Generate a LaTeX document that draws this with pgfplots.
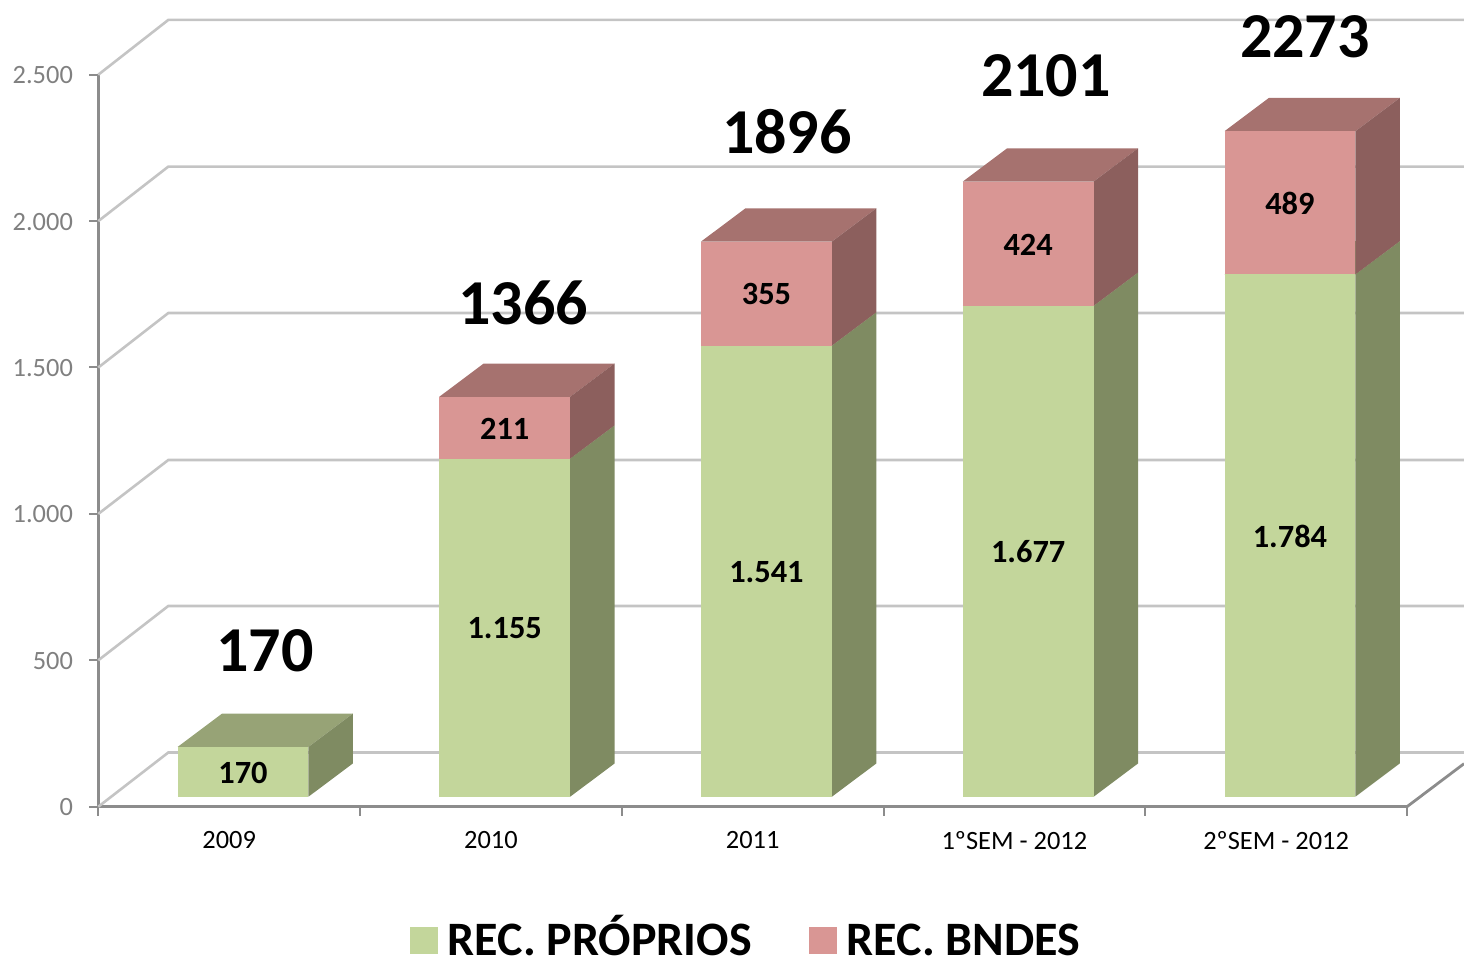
\documentclass[border=0pt]{standalone}
\usepackage{pgfplots}
\pgfplotsset{compat=1.18}
\usepackage{fontspec}
\setmainfont{Carlito}
\definecolor{gF}{HTML}{C3D69B}
\definecolor{gT}{HTML}{97A376}
\definecolor{gS}{HTML}{7F8B62}
\definecolor{rF}{HTML}{D99694}
\definecolor{rT}{HTML}{A6726F}
\definecolor{rS}{HTML}{8C5F5D}
\definecolor{gridc}{HTML}{C4C4C4}
\definecolor{axisc}{HTML}{8C8C8C}
\definecolor{tickt}{HTML}{808080}
\tikzset{
  seglabel/.style={font=\fontsize{16.2}{18}\selectfont\bfseries,black,inner sep=0pt,yshift=-0.4pt},
  totlabel/.style={font=\fontsize{32}{34}\selectfont\bfseries,black,inner sep=0pt},
}
% one stacked segment: centre, low, high, label, colours (front, top, side)
\newcommand{\seg}[7]{%
  \pgfmathsetmacro{\xa}{#1+0.0528-0.25}%
  \pgfmathsetmacro{\xb}{#1+0.0528+0.25}%
  \pgfmathsetmacro{\xc}{#1+0.0528+0.25+0.1696}%
  \pgfmathsetmacro{\xd}{#1+0.0528-0.25+0.1696}%
  \pgfmathsetmacro{\xm}{#1+0.0528}%
  \pgfmathsetmacro{\yl}{#2+34}%
  \pgfmathsetmacro{\yh}{#3+34}%
  \pgfmathsetmacro{\ylb}{#2+34+113.6}%
  \pgfmathsetmacro{\yhb}{#3+34+113.6}%
  \pgfmathsetmacro{\ym}{(#2+#3)/2+34}%
  \edef\temp{%
    \noexpand\addplot[fill=#6,draw=none,forget plot] coordinates {(\xa,\yh)(\xb,\yh)(\xc,\yhb)(\xd,\yhb)} -- cycle;
    \noexpand\addplot[fill=#7,draw=none,forget plot] coordinates {(\xb,\yl)(\xc,\ylb)(\xc,\yhb)(\xb,\yh)} -- cycle;
    \noexpand\addplot[fill=#5,draw=none,forget plot] coordinates {(\xa,\yl)(\xb,\yl)(\xb,\yh)(\xa,\yh)} -- cycle;
    \noexpand\node[seglabel] at (axis cs:\xm,\ym) {#4};
  }\temp}
\newcommand{\wall}[2]{\addplot[gridc,line width=1.3pt,forget plot] coordinates {(-0.5,#1)(-0.2326,#2)(4.718,#2)};}
\begin{document}
\begin{tikzpicture}
\path[use as bounding box] (-49.15pt,-75.65pt) rectangle (682.85pt,403.35pt);
\begin{axis}[
  scale only axis, width=654.35pt, height=366pt,
  xmin=-0.5, xmax=4.5, ymin=0, ymax=2500, clip=false,
  axis x line*=bottom, axis y line*=left,
  axis line style={axisc,line width=1.4pt,-},
  tick align=outside, major tick length=4.5pt, minor tick length=4.5pt,
  ytick={0,500,1000,1500,2000,2500},
  yticklabels={0,500,1.000,1.500,2.000,2.500},
  xtick={0,1,2,3,4},
  xticklabels={2009,2010,2011,1ºSEM - 2012,2ºSEM - 2012},
  minor xtick={-0.5,0.5,1.5,2.5,3.5,4.5},
  x tick style={axisc,line width=1pt},
  y tick style={axisc,line width=1pt},
  major x tick style={draw=none},
  ticklabel style={font=\fontsize{13.2}{15}\selectfont},
  yticklabel style={tickt,inner sep=0pt,xshift=-8pt,yshift=-0.3pt},
  xticklabel style={black,inner sep=0pt,yshift=-7.7pt},
  legend style={at={(rel axis cs:0.4957,-0.1785)},anchor=center,draw=none,fill=none,
    font=\fontsize{24}{26}\selectfont\bfseries,legend columns=2,
    nodes={text height=18pt,text depth=0pt},
    /tikz/every even column/.append style={column sep=26.5pt}},
  legend image code/.code={\path[draw=none,fill=none] (0pt,0pt) -- (17pt,0pt);\fill[#1,draw=none] (0pt,-8.5pt) rectangle (14pt,5pt);},
]
\wall{0}{185}
\wall{500}{685.5}
\wall{1000}{1184}
\wall{1500}{1686}
\wall{2000}{2186}
\wall{2500}{2687}
\addplot[axisc,line width=1.4pt,forget plot] coordinates {(4.5,0)(4.718,147)};
\seg{0}{0}{170}{170}{gF}{gT}{gS}
\seg{1}{0}{1155}{1.155}{gF}{gT}{gS}
\seg{1}{1155}{1366}{211}{rF}{rT}{rS}
\seg{2}{0}{1541}{1.541}{gF}{gT}{gS}
\seg{2}{1541}{1896}{355}{rF}{rT}{rS}
\seg{3}{0}{1677}{1.677}{gF}{gT}{gS}
\seg{3}{1677}{2101}{424}{rF}{rT}{rS}
\seg{4}{0}{1784}{1.784}{gF}{gT}{gS}
\seg{4}{1784}{2273}{489}{rF}{rT}{rS}
\node[totlabel] at (axis cs:0.1369,532) {170};
\node[totlabel] at (axis cs:1.1226,1720) {1366};
\node[totlabel] at (axis cs:2.1311,2304) {1896};
\node[totlabel] at (axis cs:3.1207,2495) {2101};
\node[totlabel] at (axis cs:4.1102,2629) {2273};
\addlegendimage{fill=gF}
\addlegendentry{REC. PRÓPRIOS}
\addlegendimage{fill=rF}
\addlegendentry{REC. BNDES}
\end{axis}
\end{tikzpicture}
\end{document}
